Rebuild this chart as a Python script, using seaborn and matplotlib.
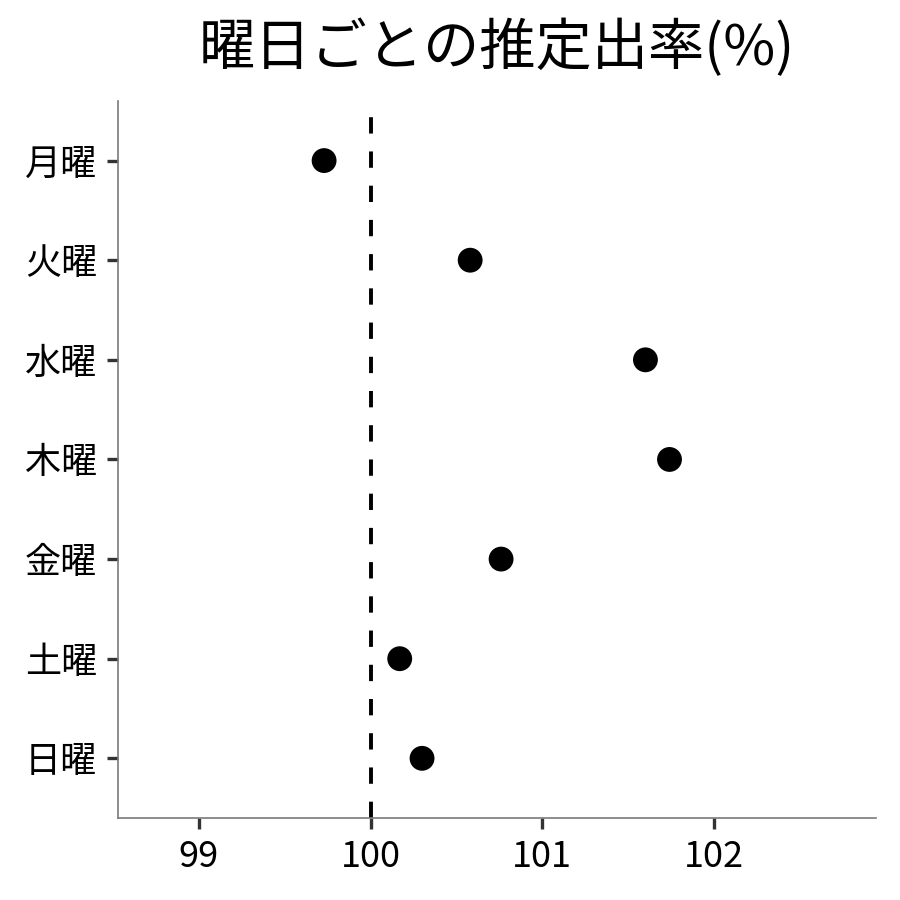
import matplotlib
matplotlib.use('Agg')
import matplotlib.pyplot as plt
import seaborn as sns
import pandas as pd

days = ['月曜', '火曜', '水曜', '木曜', '金曜', '土曜', '日曜']
rate = [99.73, 100.58, 101.60, 101.74, 100.76, 100.17, 100.30]
x_ticks = [99, 100, 101, 102]

df = pd.DataFrame({'day': days, 'rate': rate})

sns.set_style('white')
plt.rcParams['font.family'] = ['Noto Sans CJK JP', 'DejaVu Sans']

fig = plt.figure(figsize=(9, 9), dpi=100)
ax = fig.add_axes([0.131, 0.091, 0.842, 0.797])

ax.axvline(100, color='black', lw=2.8, linestyle=(0, (4.2, 4.6)), zorder=1)
sns.scatterplot(data=df, x='rate', y='day', color='black', s=320,
                edgecolor='none', ax=ax, zorder=3)

ax.set_xlim(98.53, 102.94)
ax.set_ylim(6.6, -0.6)
ax.set_xticks(x_ticks)
ax.set_xticklabels([str(t) for t in x_ticks])
ax.set_xlabel('')
ax.set_ylabel('')
ax.set_title('曜日ごとの推定出率(%)', fontsize=40.5, color='black', pad=26)

for side in ['top', 'right']:
    ax.spines[side].set_visible(False)
for side in ['left', 'bottom']:
    ax.spines[side].set_color('#7a7a7a')
    ax.spines[side].set_linewidth(1.2)
ax.tick_params(axis='both', which='major', bottom=True, left=True,
               length=8, width=2.4, color='#333333', labelsize=26,
               labelcolor='black', pad=7)
ax.grid(False)

fig.savefig('out.png', dpi=100)
